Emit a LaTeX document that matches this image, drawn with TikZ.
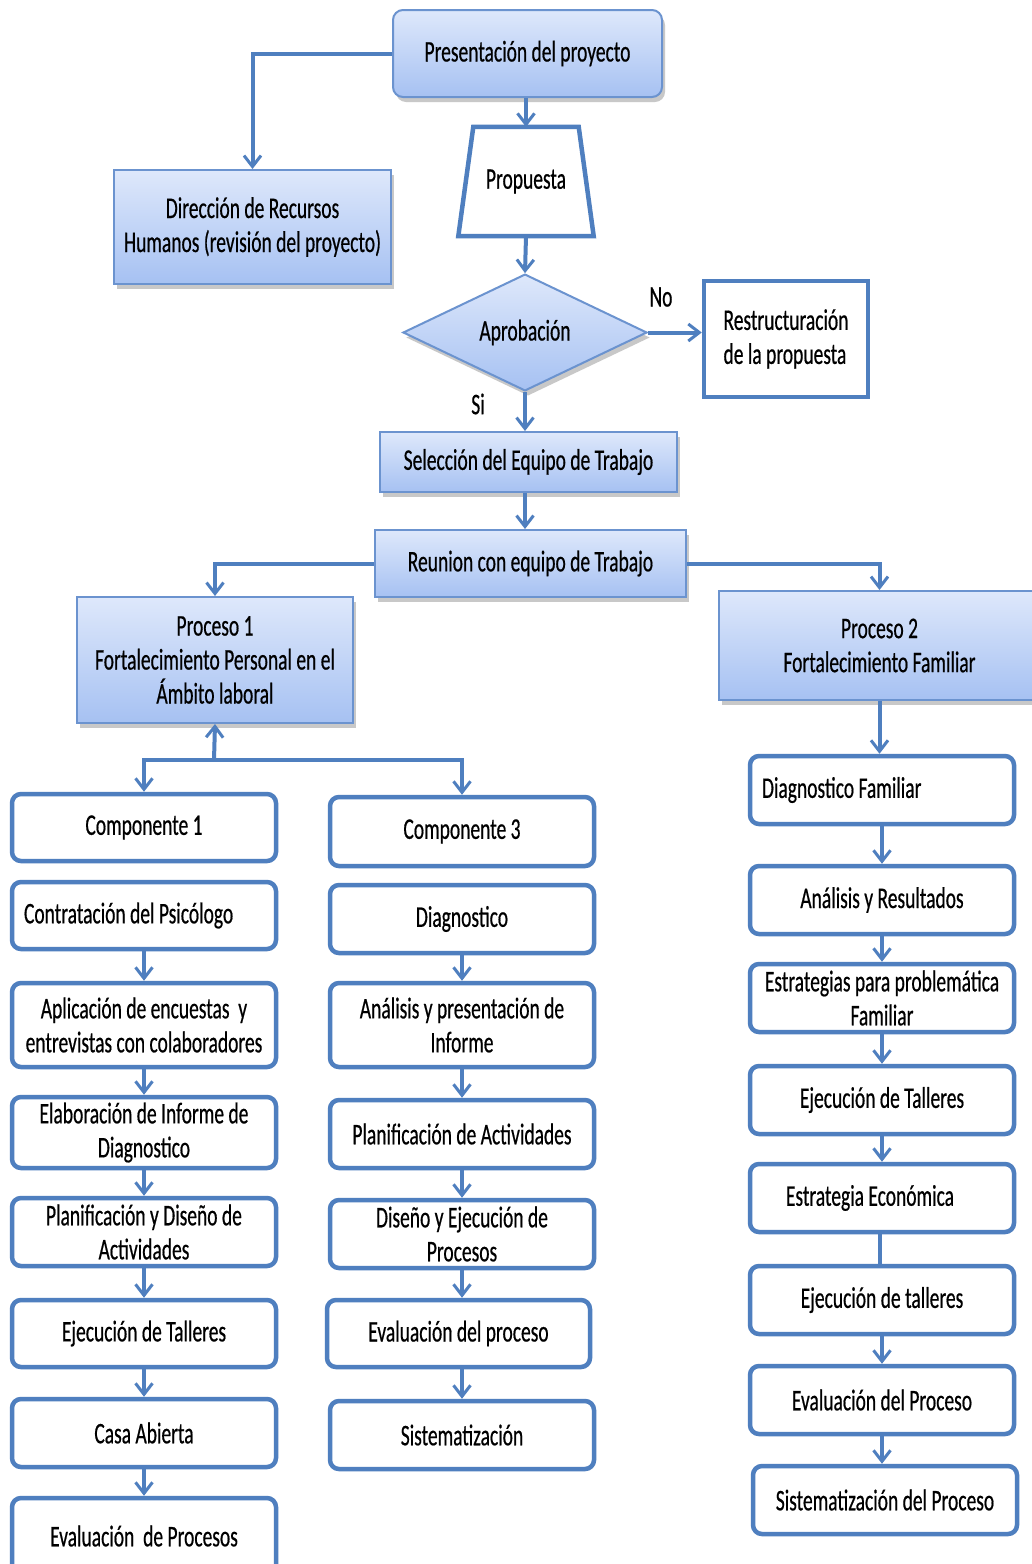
\documentclass[tikz,border=0pt]{standalone}
\usepackage{fontspec}
\setmainfont{Carlito}[FakeStretch=0.65, FakeBold=0.5]
\usetikzlibrary{arrows.meta,shapes.geometric,shadows}

\definecolor{lineblue}{HTML}{4F7FBF}
\definecolor{edgeblue}{HTML}{6B93CF}
\definecolor{gradtop}{HTML}{DEE8FB}
\definecolor{gradbot}{HTML}{A6C1F2}

\tikzset{
  every node/.style={font=\fontsize{30}{34}\selectfont, text=black, inner sep=2pt},
  gbox/.style={rectangle, draw=edgeblue, line width=2pt, top color=gradtop, bottom color=gradbot,
    drop shadow={shadow xshift=3pt, shadow yshift=-5pt, opacity=0.3, fill=black!70},
    align=center},
  wbox/.style={rectangle, rounded corners=9pt, draw=lineblue, line width=4.5pt, fill=white,
    minimum width=264pt, minimum height=68pt, align=center},
  leftwbox/.style={wbox, text width=240pt, align=flush left},
  arr/.style={draw=lineblue, line width=4pt,
    -{Straight Barb[length=11pt,width=17pt,line width=3pt]}},
  plainline/.style={draw=lineblue, line width=4pt},
}

\begin{document}
\begin{tikzpicture}[x=1pt, y=-1pt]
  \useasboundingbox (0,0) rectangle (1032,1564);
  \fill[white] (0,0) rectangle (1032,1564);

  % upper flow
  \node[gbox, rounded corners=10pt, minimum width=269pt, minimum height=87pt] (pres) at (527.5,53.5) {Presentación del proyecto};
  % the proposal: a trapezoid, narrower at the top, drawn round an invisible frame
  \node[rectangle, inner sep=0pt, minimum width=135pt, minimum height=109pt] (prop) at (526,181.5) {};
  \draw[draw=lineblue, line width=4.5pt, fill=white, line join=miter]
    ([xshift=15pt]prop.north west) -- ([xshift=-15pt]prop.north east)
    -- (prop.south east) -- (prop.south west) -- cycle;
  \node (proptext) at (prop.center) {Propuesta};
  \node[gbox, minimum width=277pt, minimum height=114pt] (dir) at (252.5,227) {Dirección de Recursos\\Humanos (revisión del proyecto)};
  \node[diamond, draw=edgeblue, line width=2pt, top color=gradtop, bottom color=gradbot,
        drop shadow={shadow xshift=3pt, shadow yshift=-5pt, opacity=0.3, fill=black!70},
        inner sep=0pt, minimum width=244pt, minimum height=115pt] (apr) at (525,332.5) {Aprobación};
  \node[rectangle, draw=lineblue, line width=4.5pt, fill=white, minimum width=164pt, minimum height=116pt, align=left] (restr) at (786,339) {Restructuración\\de la propuesta};
  \node (lno) at (661,297) {No};
  \node (lsi) at (478,404) {Si};
  \node[gbox, minimum width=297pt, minimum height=60pt] (sel) at (528.5,462) {Selección del Equipo de Trabajo};
  \node[gbox, minimum width=311pt, minimum height=67pt] (reu) at (530.5,563.5) {Reunion con equipo de Trabajo};
  \node[gbox, minimum width=276pt, minimum height=126pt] (p1) at (215,660) {Proceso 1\\Fortalecimiento Personal en el\\Ámbito laboral};
  \node[gbox, minimum width=321pt, minimum height=109pt] (p2) at (879.5,645.5) {Proceso 2\\Fortalecimiento Familiar};

  % left column
  \node[wbox, minimum height=67pt] (c1) at (144,827.5) {Componente 1};
  \node[leftwbox, minimum height=67pt] (contr) at (144,915.5) {Contratación del Psicólogo};
  \node[wbox, minimum height=84pt] (apl) at (144,1025) {Aplicación de encuestas\ \ y\\entrevistas con colaboradores};
  \node[wbox, minimum height=71pt] (elab) at (144,1132.5) {Elaboración de Informe de\\Diagnostico};
  \node[wbox] (plan) at (144,1232) {Planificación y Diseño de\\Actividades};
  \node[wbox, minimum height=67pt] (ejec) at (144,1333.5) {Ejecución de Talleres};
  \node[wbox] (casa) at (144,1433) {Casa Abierta};
  \node[wbox, minimum height=76pt] (eval) at (144,1536) {Evaluación\ \ de Procesos};

  % middle column
  \node[wbox, minimum height=69pt] (c3) at (462,831.5) {Componente 3};
  \node[wbox] (diag) at (462,919) {Diagnostico};
  \node[wbox, minimum height=84pt] (anal) at (462,1025) {Análisis y presentación de\\Informe};
  \node[wbox] (planif) at (462,1134) {Planificación de Actividades};
  \node[wbox] (dise) at (462,1234) {Diseño y Ejecución de\\Procesos};
  \node[wbox, minimum width=263pt, minimum height=67pt] (evalp) at (458.5,1333.5) {Evaluación del proceso};
  \node[wbox] (sist) at (462,1435) {Sistematización};

  % right column
  \node[leftwbox] (df) at (882,790) {Diagnostico Familiar};
  \node[wbox] (ar) at (882,900) {Análisis y Resultados};
  \node[wbox] (est) at (882,998) {Estrategias para problemática\\Familiar};
  \node[wbox] (et) at (882,1100) {Ejecución de Talleres};
  \node[wbox] (ee) at (882,1198) {\hspace*{-24pt}Estrategia Económica};
  \node[wbox] (et2) at (882,1300) {Ejecución de talleres};
  \node[wbox] (ep) at (882,1400) {Evaluación del Proceso};
  \node[wbox] (sp) at (885,1500) {Sistematización del Proceso};

  % connectors of the upper flow
  \draw[arr] (pres.west) -| (dir.north);
  \draw[arr] (prop.north |- pres.south) -- (prop.north);
  \draw[arr] (prop.south) -- (apr.north);
  \draw[arr] (apr.east) -- (apr.east -| restr.west);
  \draw[arr] (apr.south) -- (apr.south |- sel.north);
  \draw[arr] (apr.south |- sel.south) -- (apr.south |- reu.north);
  \draw[arr] (reu.west) -| (p1.north);
  \draw[arr] (reu.east) -| (p2.north);

  % branching below Proceso 1
  \coordinate (hub) at (214,760);
  \draw[arr] (hub) -- (p1.south);
  \draw[arr] (hub) -| (c1.north);
  \draw[arr] (hub) -| (c3.north);

  % left column chain
  \draw[arr] (contr.south) -- (apl.north);
  \draw[arr] (apl.south) -- (elab.north);
  \draw[arr] (elab.south) -- (plan.north);
  \draw[arr] (plan.south) -- (ejec.north);
  \draw[arr] (ejec.south) -- (casa.north);
  \draw[arr] (casa.south) -- (eval.north);

  % middle column chain
  \draw[arr] (diag.south) -- (anal.north);
  \draw[arr] (anal.south) -- (planif.north);
  \draw[arr] (planif.south) -- (dise.north);
  \draw[arr] (dise.south) -- (dise.south |- evalp.north);
  \draw[arr] (dise.south |- evalp.south) -- (sist.north);

  % right column chain
  \draw[arr] (p2.south) -- (p2.south |- df.north);
  \draw[arr] (df.south) -- (ar.north);
  \draw[arr] (ar.south) -- (est.north);
  \draw[arr] (est.south) -- (et.north);
  \draw[arr] (et.south) -- (et.south |- ee.north);
  \draw[plainline] ([xshift=-2pt]ee.south) -- ([xshift=-2pt]ee.south |- et2.north);
  \draw[arr] (et2.south) -- (ep.north);
  \draw[arr] (ep.south) -- (ep.south |- sp.north);
\end{tikzpicture}
\end{document}
